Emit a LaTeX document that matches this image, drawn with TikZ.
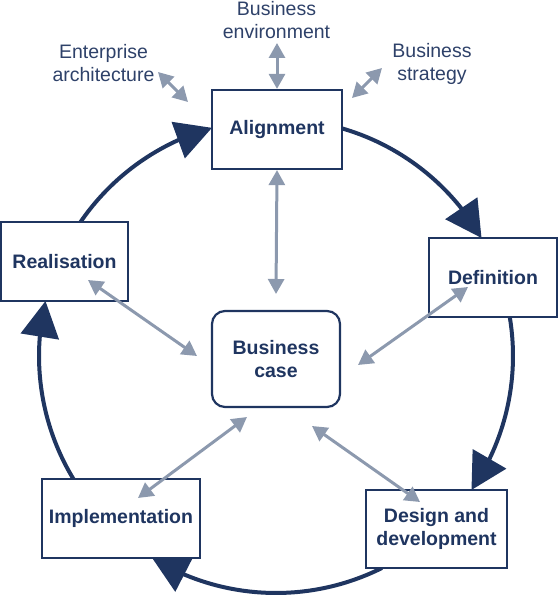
\documentclass[tikz,border=0pt]{standalone}
\usepackage{fontspec}
\setmainfont{Liberation Sans}
\usetikzlibrary{arrows.meta,bending}
\definecolor{navy}{HTML}{1F3560}
\definecolor{labelblue}{HTML}{2E4169}
\definecolor{greyarrow}{HTML}{8C99AE}
\begin{document}
\begin{tikzpicture}[x=1pt,y=1pt,
  box/.style={draw=navy, line width=2.2pt, fill=white, inner sep=0pt, text=navy,
    font=\fontsize{19.5}{23}\selectfont\bfseries, align=center},
  cyc/.style={draw=navy, line width=4pt, -{Triangle[length=36pt,width=38pt,flex]}},
  greyarr/.style={draw=greyarrow, line width=3pt,
    {Triangle[length=15pt,width=16pt]}-{Triangle[length=15pt,width=16pt]}},
  lbl/.style={text=labelblue, font=\fontsize{19.5}{23}\selectfont, align=center, inner sep=0pt}]
\useasboundingbox (0,0) rectangle (558,598);
\coordinate (C) at (276,242);
% cycle arcs
\draw[cyc] ([shift={(145.57:237)}]C) arc[start angle=145.57, end angle=105.67, radius=237];
\draw[cyc] ([shift={(73.83:237)}]C) arc[start angle=73.83, end angle=29.86, radius=237];
\draw[cyc] ([shift={(9.47:237)}]C) arc[start angle=9.47, end angle=-34.43, radius=237];
\draw[cyc] ([shift={(-63.45:237)}]C) arc[start angle=-63.45, end angle=-121.5, radius=237];
\draw[cyc] ([shift={(-148.7:237)}]C) arc[start angle=-148.7, end angle=-193.42, radius=237];
% boxes
\node[box, minimum width=130pt, minimum height=79pt] (align) at (277,468.5) {Alignment};
\node[box, minimum width=127pt, minimum height=79pt] (real) at (64.5,336.5) {Realisation};
\node[box, minimum width=128pt, minimum height=79pt] (def) at (493,320.5) {Definition};
\node[box, minimum width=141pt, minimum height=78pt] (design) at (436.5,69) {Design and\\development};
\node[box, minimum width=158pt, minimum height=79pt] (impl) at (121,79.5) {Implementation};
\node[box, rounded corners=13pt, minimum width=128pt, minimum height=96pt] (bc) at (276,239) {Business\\case};
% outer labels
\node[lbl] (env) at (276.5,577.5) {Business\\environment};
\node[lbl] (ent) at (103.5,534.5) {Enterprise\\architecture};
\node[lbl] (strat) at (432,534.5) {Business\\strategy};
% grey connector ends
\coordinate (envA) at (277,555);
\coordinate (entA) at (158,526);
\coordinate (entB) at (188,496);
\coordinate (stratA) at (382,530);
\coordinate (stratB) at (352,500);
\coordinate (bcT) at (276,304);
\coordinate (realA) at (88,318);
\coordinate (bcL) at (197,242);
\coordinate (defA) at (468,311);
\coordinate (bcR) at (358,233);
\coordinate (implA) at (138,100);
\coordinate (bcBL) at (247,181);
\coordinate (desA) at (420,96);
\coordinate (bcBR) at (312,172);
\draw[greyarr] (envA) -- (align.north);
\draw[greyarr] (entA) -- (entB);
\draw[greyarr] (stratA) -- (stratB);
\draw[greyarr] (align.south) -- (bcT);
\draw[greyarr] (realA) -- (bcL);
\draw[greyarr] (defA) -- (bcR);
\draw[greyarr] (implA) -- (bcBL);
\draw[greyarr] (desA) -- (bcBR);
\end{tikzpicture}
\end{document}
